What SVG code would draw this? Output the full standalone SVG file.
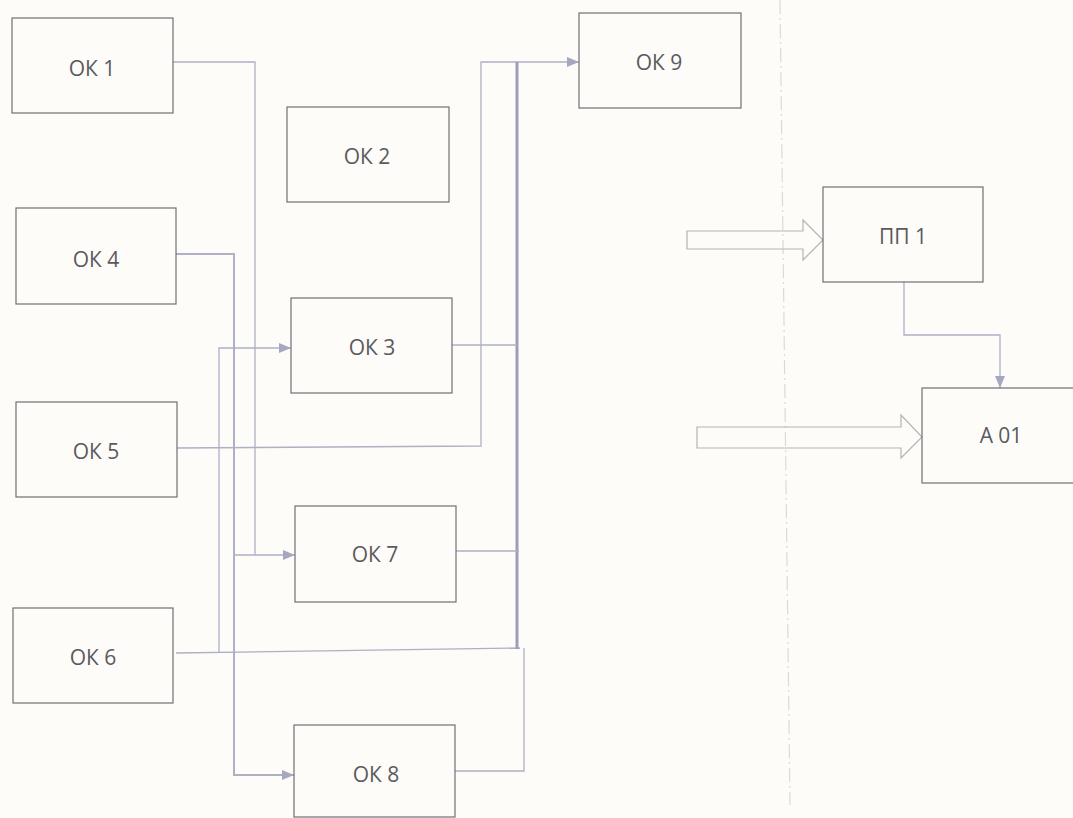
<svg xmlns="http://www.w3.org/2000/svg" width="1073" height="818" viewBox="0 0 1073 818">
<defs>
<marker id="ah" markerWidth="12" markerHeight="10" refX="12" refY="5" orient="auto" markerUnits="userSpaceOnUse">
<path d="M0,0 L12,5 L0,10 Z" fill="#a7a7c2"/>
</marker>
<style>
.box{fill:none;stroke:#707074;stroke-width:1.2}
.lbl{font-family:"Open Sans","Noto Sans",sans-serif;font-size:21px;fill:#5a5a60;text-anchor:middle}
.c{fill:none;stroke:#afafc6;stroke-width:1.3}
.ct{fill:none;stroke:#9d9dbb;stroke-width:3}
.blk{fill:none;stroke:#b4b4b4;stroke-width:1.2}
.dash{fill:none;stroke:#dadada;stroke-width:1.2;stroke-dasharray:14 4 2 4}
</style>
</defs>
<rect width="1073" height="818" fill="#fdfcf8"/>
<line class="dash" x1="780" y1="0" x2="790" y2="805"/>
<g id="connectors">
<path class="c" d="M173,62 H255 V555"/>
<path class="c" d="M176,254 H234 V775 H294" marker-end="url(#ah)" style="stroke-width:2"/>
<path class="c" d="M234,555 H295" marker-end="url(#ah)"/>
<path class="c" d="M219,652 V348 H291" marker-end="url(#ah)"/>
<path class="c" d="M177,448 L481,446 V62 H579" marker-end="url(#ah)"/>
<path class="c" d="M176,653 L520,648"/>
<path class="ct" d="M517,649 V62"/>
<path class="c" d="M452,345 H517"/>
<path class="c" d="M456,551 H519"/>
<path class="c" d="M455,771 H524 V648"/>
<path class="c" d="M904,282 V335 H1000 V388" marker-end="url(#ah)"/>
<polygon class="blk" points="687,231 803,231 803,220 823,240 803,260 803,249 687,249"/>
<polygon class="blk" points="697,427 901,427 901,415 922,437 901,458 901,448 697,448"/>
</g>
<g id="ok1"><rect class="box" x="12" y="18" width="161" height="95"/><text class="lbl" x="92" y="76">ОК 1</text></g>
<g id="ok2"><rect class="box" x="287" y="107" width="162" height="95"/><text class="lbl" x="367" y="164">ОК 2</text></g>
<g id="ok3"><rect class="box" x="291" y="298" width="161" height="95"/><text class="lbl" x="372" y="355">ОК 3</text></g>
<g id="ok4"><rect class="box" x="16" y="208" width="160" height="96"/><text class="lbl" x="96" y="267">ОК 4</text></g>
<g id="ok5"><rect class="box" x="16" y="402" width="161" height="95"/><text class="lbl" x="96" y="459">ОК 5</text></g>
<g id="ok6"><rect class="box" x="13" y="608" width="160" height="95"/><text class="lbl" x="93" y="665">ОК 6</text></g>
<g id="ok7"><rect class="box" x="295" y="506" width="161" height="96"/><text class="lbl" x="375" y="562">ОК 7</text></g>
<g id="ok8"><rect class="box" x="294" y="725" width="161" height="92"/><text class="lbl" x="376" y="782">ОК 8</text></g>
<g id="ok9"><rect class="box" x="579" y="13" width="162" height="95"/><text class="lbl" x="659" y="70">ОК 9</text></g>
<g id="pp1"><rect class="box" x="823" y="187" width="160" height="95"/><text class="lbl" x="903" y="244">ПП 1</text></g>
<g id="a01"><rect class="box" x="922" y="388" width="160" height="95"/><text class="lbl" x="1001" y="443">А 01</text></g>
</svg>
